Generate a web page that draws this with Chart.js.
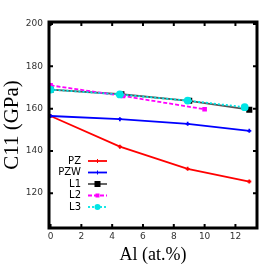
<!DOCTYPE html>
<html>
<head>
<meta charset="utf-8">
<script src="https://cdn.jsdelivr.net/npm/chart.js@4"></script>
<style>
  html, body { margin: 0; padding: 0; background: #fff; }
  #wrap { width: 270px; height: 270px; }
</style>
</head>
<body>
<div id="wrap"><canvas id="chart" width="270" height="270"></canvas></div>
<script>
// values
const pzX = [0, 4.5, 8.9, 12.9];
const pzY = [156.5, 142, 131.5, 125.5];
const pzwX = [0, 4.5, 8.9, 12.9];
const pzwY = [156.5, 155, 152.8, 149.5];
const l1X = [0, 4.6, 9, 12.9];
const l1Y = [169, 166.8, 163.7, 159.5];
const l2X = [0, 4.7, 10];
const l2Y = [171, 166, 159.7];
const l3X = [0, 4.5, 8.9, 12.6];
const l3Y = [169, 166.7, 163.8, 160.7];

const xTicks = [0, 2, 4, 6, 8, 10, 12];
const yTicks = [120, 140, 160, 180, 200];

function pts(xs, ys) {
  return xs.map((x, i) => ({ x: x, y: ys[i] }));
}

// frame + inward tick marks on all four sides
const framePlugin = {
  id: 'frame',
  afterDraw(chart) {
    const { ctx, chartArea: a, scales } = chart;
    ctx.save();
    ctx.strokeStyle = '#000';
    ctx.lineWidth = 2;
    scales.x.ticks.forEach(t => {
      const px = scales.x.getPixelForValue(t.value);
      ctx.beginPath();
      ctx.moveTo(px, a.bottom); ctx.lineTo(px, a.bottom - 4);
      ctx.moveTo(px, a.top); ctx.lineTo(px, a.top + 4);
      ctx.stroke();
    });
    scales.y.ticks.forEach(t => {
      const py = scales.y.getPixelForValue(t.value);
      ctx.beginPath();
      ctx.moveTo(a.left, py); ctx.lineTo(a.left + 4, py);
      ctx.moveTo(a.right, py); ctx.lineTo(a.right - 4, py);
      ctx.stroke();
    });
    ctx.lineWidth = 3;
    ctx.strokeRect(a.left, a.top, a.right - a.left, a.bottom - a.top);
    ctx.restore();
  }
};

// legend inside plot, labels right-aligned with line sample after them
const keyPlugin = {
  id: 'key',
  afterDatasetsDraw(chart) {
    const { ctx } = chart;
    const sets = chart.data.datasets.slice().sort((a, b) => a.legendIdx - b.legendIdx);
    ctx.save();
    ctx.font = '10px "DejaVu Sans", sans-serif';
    ctx.textAlign = 'right';
    ctx.textBaseline = 'middle';
    sets.forEach((ds, i) => {
      const y = 161 + i * 11.5;
      ctx.fillStyle = '#000';
      ctx.fillText(ds.label, 81, y);
      ctx.strokeStyle = ds.borderColor;
      ctx.lineWidth = ds.borderWidth;
      ctx.setLineDash(ds.borderDash || []);
      ctx.beginPath();
      ctx.moveTo(88, y); ctx.lineTo(107, y);
      ctx.stroke();
      ctx.setLineDash([]);
      const r = ds.pointRadius;
      ctx.fillStyle = ds.pointBackgroundColor;
      ctx.strokeStyle = ds.pointBorderColor;
      ctx.lineWidth = 1;
      if (ds.pointStyle === 'rect') {
        ctx.fillRect(97.5 - r, y - r, 2 * r, 2 * r);
      } else if (ds.pointStyle === 'circle') {
        ctx.beginPath(); ctx.arc(97.5, y, r, 0, Math.PI * 2); ctx.fill();
      } else {
        ctx.beginPath();
        ctx.moveTo(97.5, y - r); ctx.lineTo(97.5, y + r);
        ctx.stroke();
      }
    });
    ctx.restore();
  }
};

new Chart(document.getElementById('chart'), {
  type: 'line',
  data: {
    datasets: [
      { label: 'PZ', legendIdx: 0, order: 4, data: pts(pzX, pzY), borderColor: '#ff0000', borderWidth: 1.8,
        pointStyle: 'cross', pointRadius: 2, pointBackgroundColor: '#ff0000', pointBorderColor: '#ff0000', tension: 0 },
      { label: 'PZW', legendIdx: 1, order: 3, data: pts(pzwX, pzwY), borderColor: '#0000ff', borderWidth: 1.8,
        pointStyle: 'cross', pointRadius: 2, pointBackgroundColor: '#0000ff', pointBorderColor: '#0000ff' },
      { label: 'L1', legendIdx: 2, order: 2, data: pts(l1X, l1Y), borderColor: '#555555', borderWidth: 1.8,
        pointStyle: 'rect', pointRadius: 3, pointBackgroundColor: '#000', pointBorderColor: '#000' },
      { label: 'L2', legendIdx: 3, order: 1, data: pts(l2X, l2Y), borderColor: '#ff00ff', borderWidth: 1.8,
        borderDash: [4, 2], pointStyle: 'rect', pointRadius: 2, pointBackgroundColor: '#ff00ff', pointBorderColor: '#ff00ff' },
      { label: 'L3', legendIdx: 4, order: 0, data: pts(l3X, l3Y), borderColor: '#00e5e5', borderWidth: 1.8,
        borderDash: [2, 2], pointStyle: 'circle', pointRadius: 3, pointBackgroundColor: '#00e5e5', pointBorderColor: '#00e5e5' }
    ]
  },
  options: {
    responsive: false,
    animation: false,
    events: [],
    layout: { padding: { top: 22, right: 13, left: 0, bottom: 0 } },
    plugins: { legend: { display: false }, tooltip: { enabled: false } },
    scales: {
      x: {
        type: 'linear',
        min: -0.1, max: 13.4,
        afterFit(s) { s.height = 42; },
        afterBuildTicks(s) { s.ticks = xTicks.map(v => ({ value: v })); },
        grid: { display: false, drawTicks: false },
        border: { display: false },
        ticks: { padding: 3, color: '#333', font: { family: 'DejaVu Sans', size: 9 } },
        title: { display: true, text: 'Al (at.%)', color: '#000', padding: { top: 0, bottom: 4 },
          font: { family: 'Liberation Serif', size: 18 } }
      },
      y: {
        min: 103.5, max: 201,
        afterFit(s) { s.width = 49; },
        afterBuildTicks(s) { s.ticks = yTicks.map(v => ({ value: v })); },
        grid: { display: false, drawTicks: false },
        border: { display: false },
        ticks: { padding: 6, color: '#333', font: { family: 'DejaVu Sans', size: 9 } },
        title: { display: true, text: 'C11 (GPa)', color: '#000', padding: { top: 0, bottom: 0 },
          font: { family: 'Liberation Serif', size: 21 } }
      }
    }
  },
  plugins: [framePlugin, keyPlugin]
});
</script>
</body>
</html>
